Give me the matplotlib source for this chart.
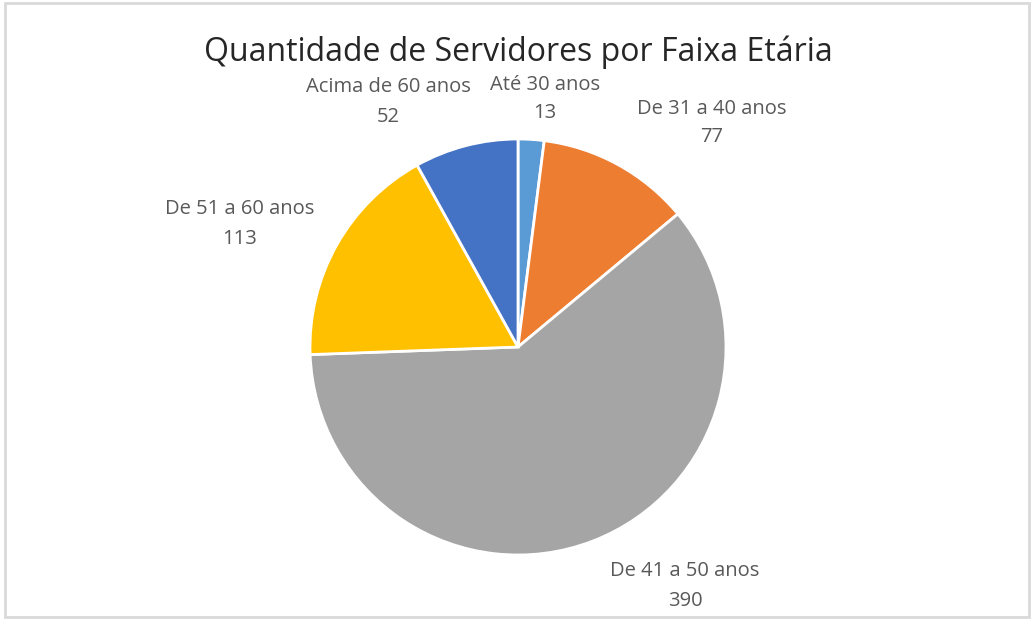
import matplotlib
matplotlib.use('Agg')
import matplotlib.pyplot as plt
from matplotlib.patches import Rectangle

# faixas etarias e quantidade de servidores
faixas = ['Até 30 anos', 'De 31 a 40 anos', 'De 41 a 50 anos',
          'De 51 a 60 anos', 'Acima de 60 anos']
quantidades = [13, 77, 390, 113, 52]
cores = ['#5B9BD5', '#ED7D31', '#A5A5A5', '#FFC000', '#4472C4']

# posicao dos rotulos (pixels, origem no canto inferior esquerdo)
pos_rotulos = [(545, 520), (712, 496), (685, 33), (240, 395), (388, 517)]

plt.rcParams['font.family'] = ['Open Sans', 'DejaVu Sans']

fig = plt.figure(figsize=(10.32, 6.19), dpi=100)
ax = fig.add_axes([0, 0, 1, 1])

ax.add_patch(Rectangle((5, 2), 1024, 614, fill=False, edgecolor='#D9D9D9',
                       linewidth=2))

ax.pie(quantidades, colors=cores, startangle=90, counterclock=False,
       center=(518, 272), radius=208, frame=True,
       wedgeprops=dict(edgecolor='white', linewidth=2))
ax.set_xlim(0, 1032)
ax.set_ylim(0, 619)
ax.set_aspect('equal')
ax.axis('off')

for nome, qtd, (x, y) in zip(faixas, quantidades, pos_rotulos):
    ax.text(x, y, '%s\n%d' % (nome, qtd), ha='center', va='center',
            fontsize=14.5, color='#595959', linespacing=1.6)

ax.text(518, 567, 'Quantidade de Servidores por Faixa Etária', ha='center',
        va='center', fontsize=23, color='#262626')

fig.savefig('out.png', dpi=100)
